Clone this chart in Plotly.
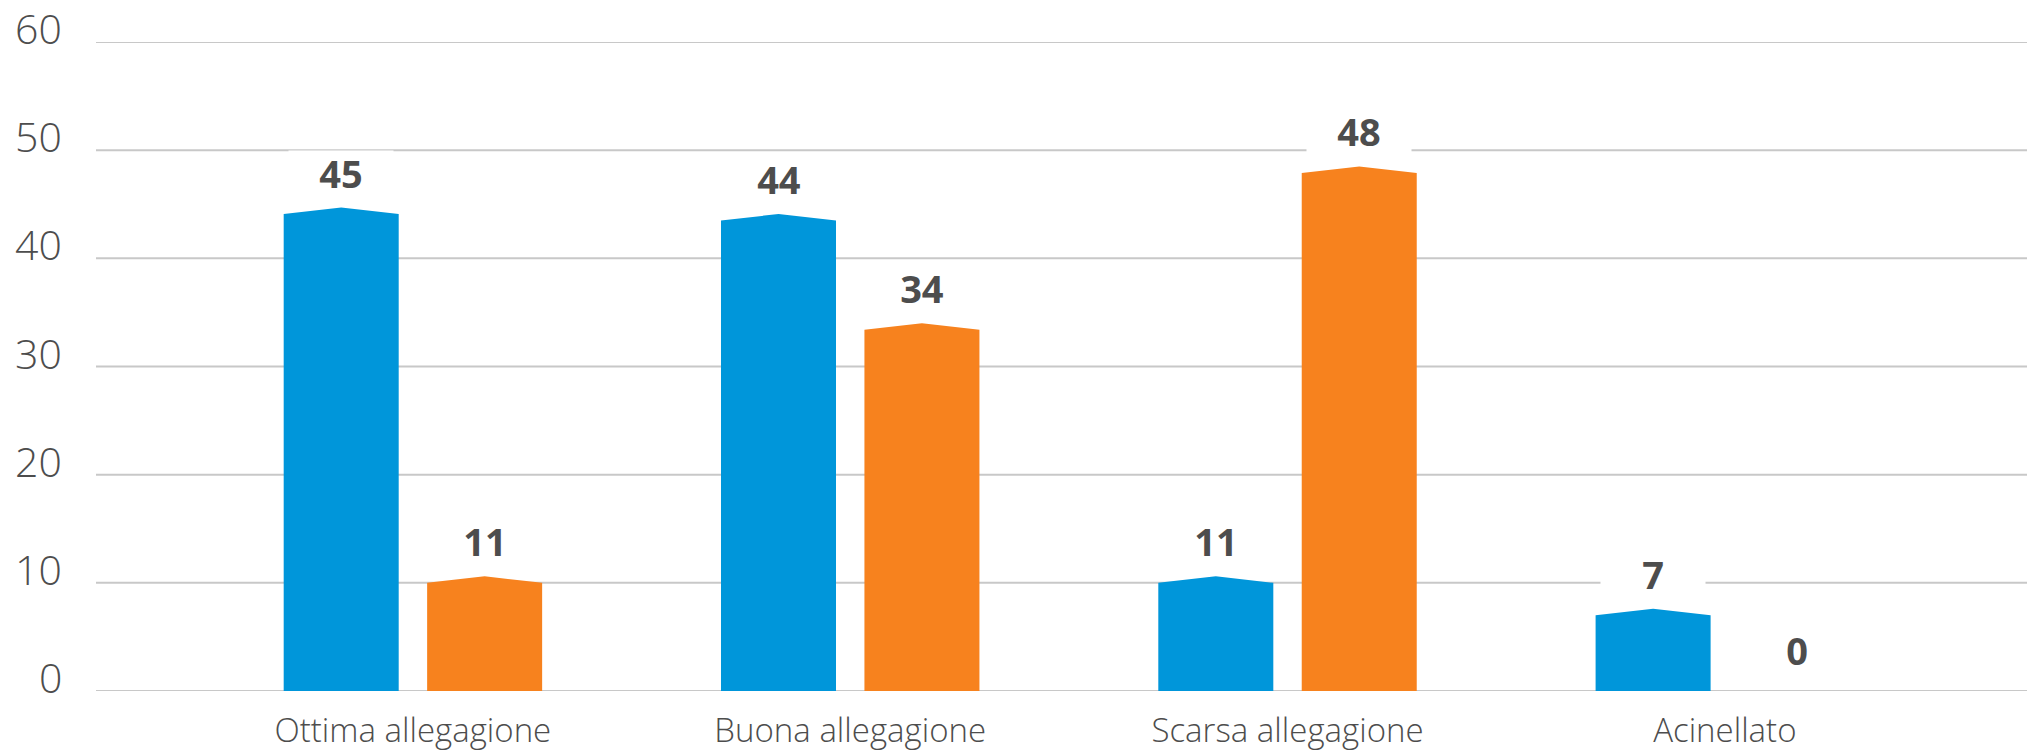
import plotly.graph_objects as go

categories = ["Ottima allegagione", "Buona allegagione", "Scarsa allegagione", "Acinellato"]
blue_values = [45, 44, 11, 7]
orange_values = [11, 34, 48, 0]
blue_heights = [44.1, 43.5, 10.0, 7.0]
orange_heights = [10.0, 33.4, 47.9, 0.0]
y_ticks = [0, 10, 20, 30, 40, 50, 60]

BLUE = "#0096da"
ORANGE = "#f7821e"
TEXT = "#4d4d4d"
GRID = "#c8c8c8"
BAR_W = 0.263
OFFSET = 0.164
PEAK = 0.6

fig = go.Figure()

# grid lines and y tick labels
for t in y_ticks:
    fig.add_shape(type="line", xref="paper", x0=0, x1=1, yref="y", y0=t, y1=t,
                  line=dict(color=GRID, width=2), layer="below")
    fig.add_annotation(xref="paper", x=0, y=t, text=str(t), showarrow=False,
                       xanchor="right", yanchor="middle", xshift=-32, yshift=14,
                       font=dict(family="Open Sans", size=41, color=TEXT, weight=300))

series = [(blue_heights, blue_values, BLUE, -OFFSET),
          (orange_heights, orange_values, ORANGE, OFFSET)]
for heights, values, color, off in series:
    for i, (h, v) in enumerate(zip(heights, values)):
        c = i + off
        if h > 0:
            xs = [c - BAR_W / 2, c - BAR_W / 2, c, c + BAR_W / 2, c + BAR_W / 2, c - BAR_W / 2]
            ys = [0, h, h + PEAK, h, 0, 0]
            fig.add_trace(go.Scatter(x=xs, y=ys, fill="toself", fillcolor=color,
                                     line=dict(width=0, color=color), mode="lines",
                                     hoverinfo="skip", showlegend=False))
        fig.add_annotation(x=c, y=h + PEAK, text=f"<b>{v}</b>", showarrow=False,
                           yanchor="bottom", yshift=12, bgcolor="white",
                           width=104, height=44, borderpad=0,
                           font=dict(family="Open Sans", size=38, color=TEXT))

fig.update_layout(
    width=2027, height=752,
    margin=dict(l=96, r=0, t=42, b=61),
    paper_bgcolor="white", plot_bgcolor="white",
    showlegend=False,
    xaxis=dict(range=[-0.7247, 3.691], tickvals=list(range(len(categories))),
               ticktext=categories, showgrid=False, zeroline=False, showline=False,
               ticks="", ticklabelstandoff=17, automargin=False,
               tickfont=dict(family="Open Sans", size=33, color=TEXT, weight=300)),
    yaxis=dict(range=[0, 60], showgrid=False, zeroline=False, showline=False,
               showticklabels=False, ticks="", automargin=False),
)

fig.write_html("out.html", config={"displayModeBar": False},
               post_script="document.body.style.margin='0';document.body.style.overflow='hidden';")
